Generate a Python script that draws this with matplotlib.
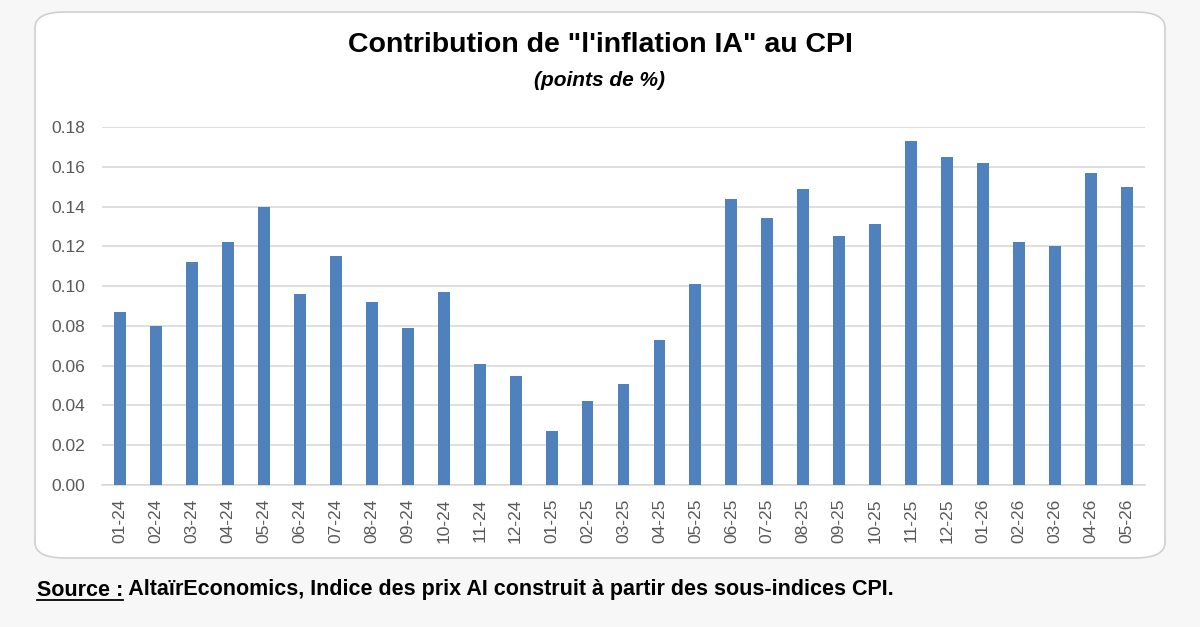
import matplotlib
matplotlib.use("Agg")
import matplotlib.pyplot as plt
from matplotlib.patches import FancyBboxPatch
from matplotlib.lines import Line2D

months = ["01-24", "02-24", "03-24", "04-24", "05-24", "06-24", "07-24", "08-24",
          "09-24", "10-24", "11-24", "12-24", "01-25", "02-25", "03-25", "04-25",
          "05-25", "06-25", "07-25", "08-25", "09-25", "10-25", "11-25", "12-25",
          "01-26", "02-26", "03-26", "04-26", "05-26"]
values = [0.087, 0.080, 0.112, 0.122, 0.140, 0.096, 0.115, 0.092,
          0.079, 0.097, 0.061, 0.055, 0.027, 0.042, 0.051, 0.073,
          0.101, 0.144, 0.134, 0.149, 0.125, 0.131, 0.173, 0.165,
          0.162, 0.122, 0.120, 0.157, 0.150]
yticks = [0.00, 0.02, 0.04, 0.06, 0.08, 0.10, 0.12, 0.14, 0.16, 0.18]

title = "Contribution de \"l'inflation IA\" au CPI"
subtitle = "(points de %)"
source_label = "Source :"
source_text = " AltaïrEconomics, Indice des prix AI construit à partir des sous-indices CPI."

fam = ["Liberation Sans Narrow", "Liberation Sans", "DejaVu Sans"]
plt.rcParams['font.family'] = fam

W, H = 1200, 627
fig = plt.figure(figsize=(12, 6.27), dpi=100, facecolor="#f7f7f7")

# rounded white card
card = FancyBboxPatch((35 / W, 1 - 558 / H), (1165 - 35) / W, (558 - 12) / H,
                      boxstyle="round,pad=0,rounding_size=0.025",
                      transform=fig.transFigure, facecolor="white",
                      edgecolor="#d0d0d0", linewidth=1.2, zorder=-5)
fig.patches.append(card)

ax = fig.add_axes([102 / W, 1 - 485 / H, (1145 - 102) / W, (485 - 127) / H])
ax.set_zorder(2)
ax.set_facecolor("none")
x = list(range(len(months)))
ax.bar(x, values, width=0.33, color="#4f81bd", zorder=3)
ax.set_xlim(-0.5, len(months) - 0.5)
ax.set_ylim(0, 0.18)
ax.set_yticks(yticks)
ax.set_yticklabels([f"{v:.2f}" for v in yticks], fontsize=12.5, color="#595959",
                   family=["Liberation Sans", "DejaVu Sans"])
ax.set_xticks(x)
ax.set_xticklabels(months, rotation=90, fontsize=12.5, color="#595959",
                   family=["Liberation Sans", "DejaVu Sans"])
ax.tick_params(axis="both", length=0, pad=10)
ax.tick_params(axis="y", pad=12)
ax.grid(axis="y", color="#d9d9d9", linewidth=1.2, zorder=0)
for s in ["top", "right", "left"]:
    ax.spines[s].set_visible(False)
ax.spines["bottom"].set_color("#d9d9d9")
ax.spines["bottom"].set_linewidth(1.2)

fig.text(0.5, 1 - 45 / H, title, ha="center", va="center", fontsize=20.5,
         fontweight="bold", color="black")
fig.text(0.5, 1 - 80 / H, subtitle, ha="center", va="center", fontsize=15,
         fontweight="bold", fontstyle="italic", color="black")

t1 = fig.text(37 / W, 1 - 590 / H, source_label, ha="left", va="center",
              fontsize=15.5, fontweight="bold", color="black")
fig.canvas.draw()
r = fig.canvas.get_renderer()
bb = t1.get_window_extent(r)
fig.text(bb.x1 / W, 1 - 590 / H, source_text, ha="left", va="center",
         fontsize=15.5, fontweight="bold", color="black")
fig.add_artist(Line2D([bb.x0 / W, bb.x1 / W], [(bb.y0 + 1) / H, (bb.y0 + 1) / H],
                      transform=fig.transFigure, color="black", linewidth=1.3))

fig.savefig("out.png", dpi=100, facecolor=fig.get_facecolor())
